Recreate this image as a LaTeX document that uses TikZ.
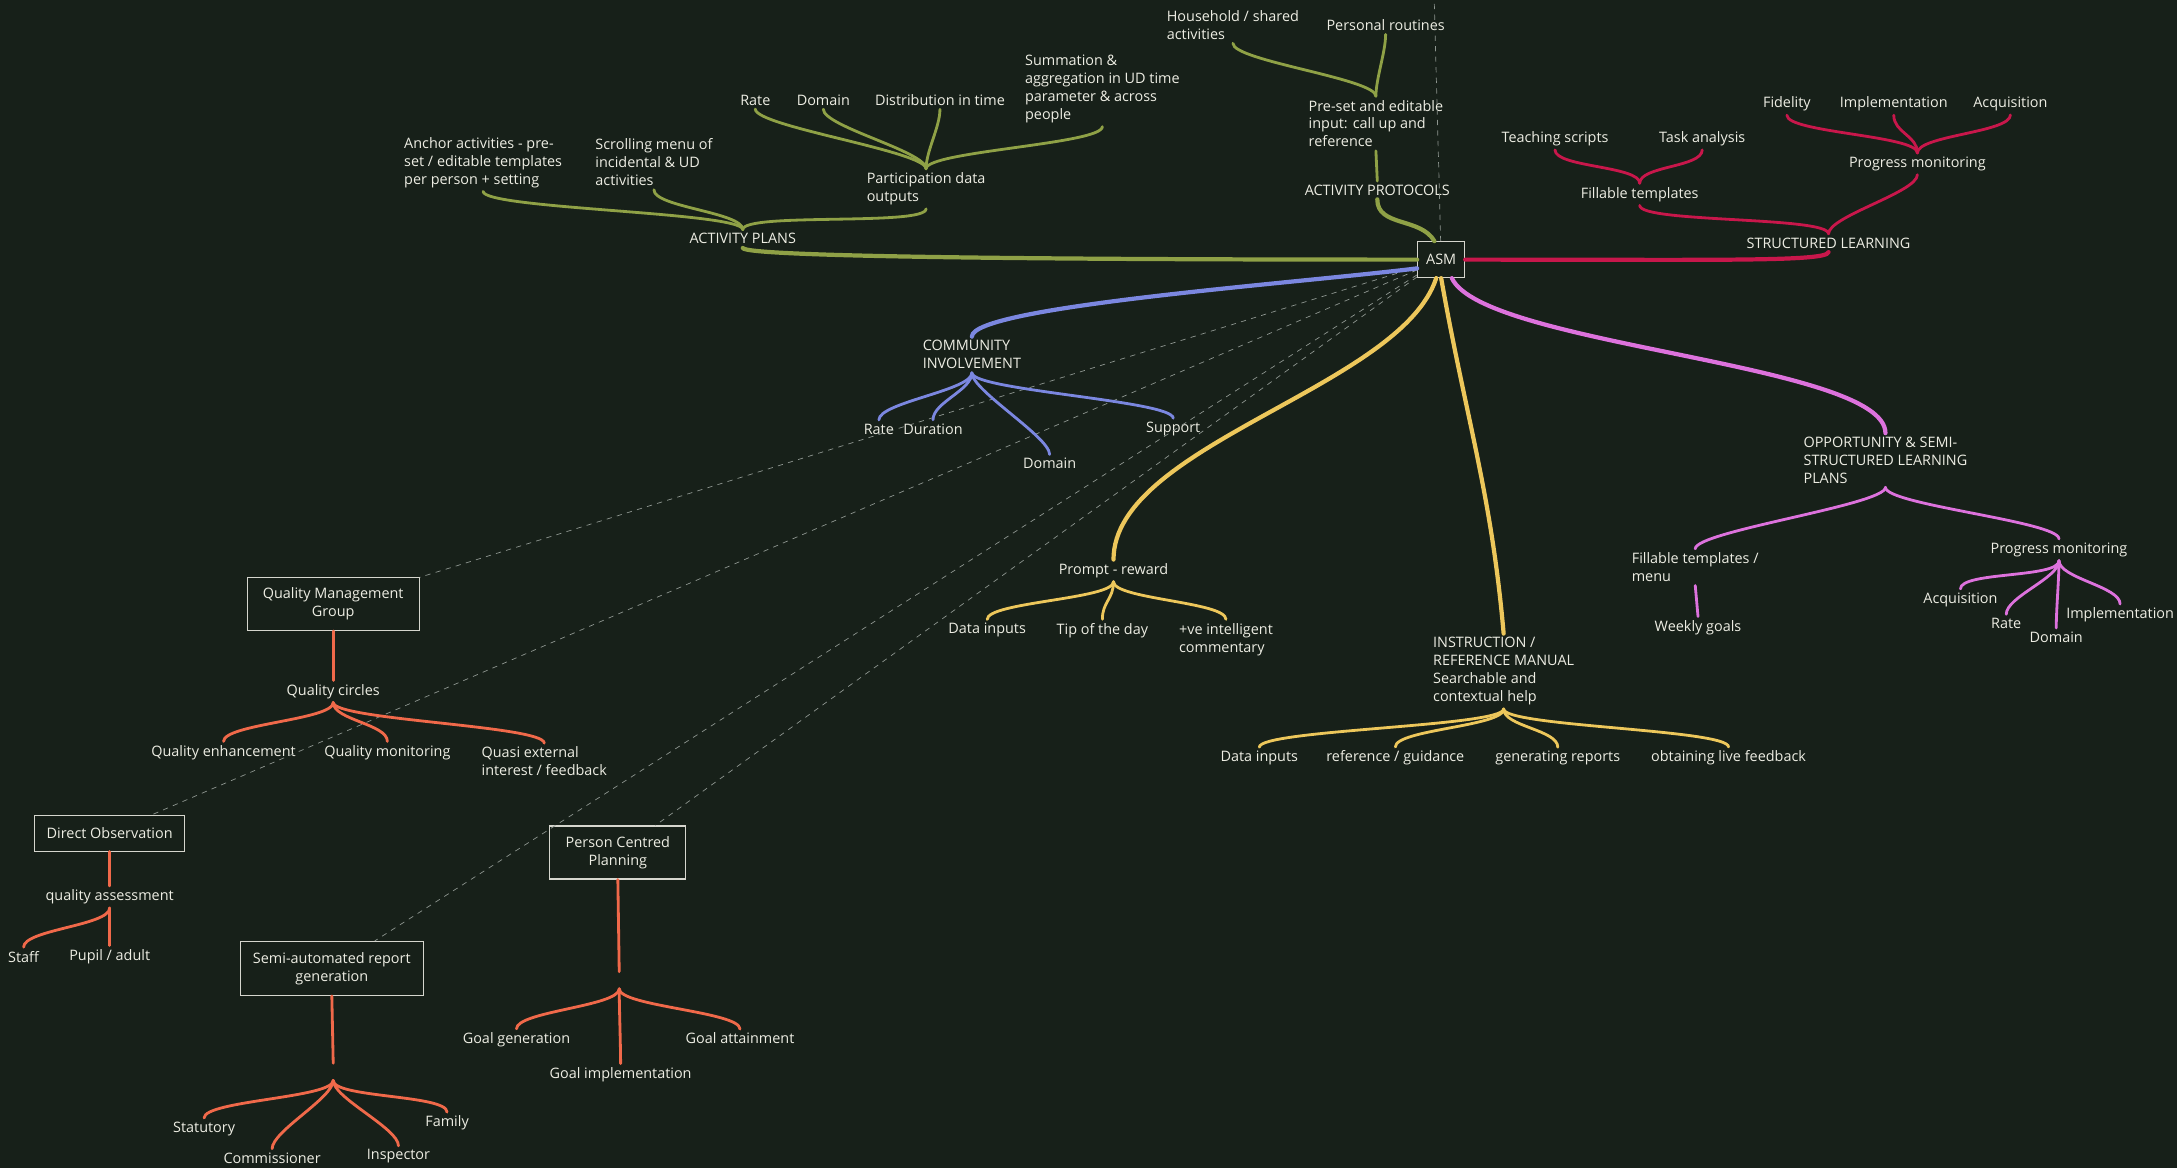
\documentclass[tikz,border=0pt]{standalone}
\usepackage{fontspec}
\setmainfont{Open Sans}
\definecolor{bgc}{HTML}{172019}
\definecolor{txt}{HTML}{EDEDE3}
\definecolor{boxc}{HTML}{D6D6CE}
\definecolor{dsh}{HTML}{8E9690}
\definecolor{grn}{HTML}{8FA146}
\definecolor{crim}{HTML}{C8174B}
\definecolor{blu}{HTML}{7B87E0}
\definecolor{ylw}{HTML}{EDC75B}
\definecolor{pnk}{HTML}{DD72DD}
\definecolor{org}{HTML}{F0694A}
\tikzset{
  lbl/.style={text=txt, inner sep=2pt, align=left, font=\fontsize{8.2}{10.2}\selectfont},
  box/.style={draw=boxc, line width=0.6pt, fill=bgc, text=txt, align=center, inner sep=3pt, font=\fontsize{8.2}{10.2}\selectfont},
  trunk/.style={line width=2.4pt, line cap=round},
  twig/.style={line width=1.6pt, line cap=round},
  guide/.style={draw=dsh, dashed, line width=0.4pt},
  upbr/.style={out=90, in=-90, distance=3.5mm},
  dnbr/.style={out=-90, in=90, distance=3.5mm},
}
\begin{document}
\begin{tikzpicture}[x=0.2777mm, y=0.2777mm]
\fill[bgc] (0,0) rectangle (1568,-841);
\useasboundingbox (0,0) rectangle (1568,-841);

\node[box, minimum width=9.4mm, minimum height=7.2mm] (asm) at (1038,-187) {ASM};

% activity plans
\node[lbl] (ap) at (535,-172) {ACTIVITY PLANS};
\node[lbl] (anchor) at (348,-117) {Anchor activities - pre-\\set / editable templates\\per person + setting};
\node[lbl] (scroll) at (471,-117) {Scrolling menu of\\incidental \& UD\\activities};
\node[lbl] (pdo) at (667,-136) {Participation data\\outputs};
\node[lbl] (rate1) at (544,-72) {Rate};
\node[lbl] (dom1) at (593,-72) {Domain};
\node[lbl] (dist) at (677,-72) {Distribution in time};
\node[lbl] (summ) at (794,-64) {Summation \&\\aggregation in UD time\\parameter \& across\\people};
\node[lbl] (protocols) at (992,-137) {ACTIVITY PROTOCOLS};
\node[lbl] (preset) at (991,-89) {Pre-set and editable\\input: call up and\\reference};
\node[lbl] (hh) at (888,-18) {Household / shared\\activities};
\node[lbl] (routines) at (998,-18) {Personal routines};

% structured learning
\node[lbl] (sl) at (1317,-175) {STRUCTURED LEARNING};
\node[lbl] (ft) at (1181,-140) {Fillable templates};
\node[lbl] (pm) at (1381,-118) {Progress monitoring};
\node[lbl] (ts) at (1120,-100) {Teaching scripts};
\node[lbl] (ta) at (1226,-100) {Task analysis};
\node[lbl] (fid) at (1287,-75) {Fidelity};
\node[lbl] (impl) at (1364,-75) {Implementation};
\node[lbl] (acq) at (1448,-75) {Acquisition};

% community
\node[lbl] (ci) at (700,-255.5) {COMMUNITY\\INVOLVEMENT};
\node[lbl] (rate2) at (633,-309) {Rate};
\node[lbl] (dur) at (672,-309) {Duration};
\node[lbl] (dom2) at (756,-334) {Domain};
\node[lbl] (sup) at (845,-309) {Support};

% prompt and manual
\node[lbl] (prompt) at (802,-411) {Prompt - reward};
\node[lbl] (di1) at (711,-454) {Data inputs};
\node[lbl] (tip) at (794,-454) {Tip of the day};
\node[lbl] (ve) at (883,-460.5) {+ve intelligent\\commentary};
\node[lbl] (ir) at (1083,-483.5) {INSTRUCTION /\\REFERENCE MANUAL\\Searchable and\\contextual help};
\node[lbl] (di2) at (907,-546) {Data inputs};
\node[lbl] (rg) at (1005,-546) {reference / guidance};
\node[lbl] (gr) at (1122,-546) {generating reports};
\node[lbl] (olf) at (1245,-546) {obtaining live feedback};

% opportunity
\node[lbl] (opp) at (1358,-331.5) {OPPORTUNITY \& SEMI-\\STRUCTURED LEARNING\\PLANS};
\node[lbl] (ft2) at (1221,-408.5) {Fillable templates /\\menu};
\node[lbl] (wg) at (1223,-452) {Weekly goals};
\node[lbl] (pm2) at (1483,-396) {Progress monitoring};
\node[lbl] (acq2) at (1412,-432) {Acquisition};
\node[lbl] (rate3) at (1445,-449) {Rate};
\node[lbl] (dom3) at (1481,-459) {Domain};
\node[lbl] (impl2) at (1527,-443) {Implementation};

% quality boxes
\node[box, minimum width=34.4mm, minimum height=10.6mm] (qmg) at (240,-435) {Quality Management\\Group};
\node[lbl] (qc) at (240,-498) {Quality circles};
\node[lbl] (qe) at (161,-542) {Quality enhancement};
\node[lbl] (qm) at (279,-542) {Quality monitoring};
\node[lbl] (qx) at (392,-548.5) {Quasi external\\interest / feedback};
\node[box, minimum width=30mm, minimum height=7.2mm] (dobs) at (79,-600) {Direct Observation};
\node[lbl] (qa) at (79,-646) {quality assessment};
\node[lbl] (staff) at (17,-689) {Staff};
\node[lbl] (pupil) at (79,-689) {Pupil / adult};
\node[box, minimum width=27.2mm, minimum height=10.6mm] (pcp) at (445,-614) {Person Centred\\Planning};
\node[inner sep=0pt, minimum height=3.3mm] (pcpjoin) at (446,-706) {};
\node[lbl] (gg) at (372,-749) {Goal generation};
\node[lbl] (gi) at (447,-774) {Goal implementation};
\node[lbl] (ga) at (533,-748) {Goal attainment};
\node[box, minimum width=36.7mm, minimum height=10.8mm] (sarg) at (239,-697.5) {Semi-automated report\\generation};
\node[inner sep=0pt, minimum height=3.3mm] (sargjoin) at (240,-772) {};
\node[lbl] (stat) at (147,-813) {Statutory};
\node[lbl] (comm) at (196,-834) {Commissioner};
\node[lbl] (insp) at (287,-833) {Inspector};
\node[lbl] (fam) at (322,-809) {Family};

% dashed guides
\coordinate (topend) at (1033,0);
\draw[guide] (asm) -- (topend);
\draw[guide] (asm) -- (qmg);
\draw[guide] (asm) -- (dobs);
\draw[guide] (asm) -- (pcp);
\draw[guide] (asm) -- (sarg);

\draw[trunk,grn] (asm.west) to[out=180, in=-80, out distance=60mm, in distance=2mm] (ap.south);
\draw[twig,grn] (ap.north) to[upbr] (anchor.south);
\draw[twig,grn] (ap.north) to[upbr] (scroll.south);
\draw[twig,grn] (ap.north) to[upbr] (pdo.south);
\draw[twig,grn] (pdo.north) to[upbr] (rate1.south);
\draw[twig,grn] (pdo.north) to[upbr] (dom1.south);
\draw[twig,grn] (pdo.north) to[upbr] (dist.south);
\draw[twig,grn] (pdo.north) to[upbr] (summ.south);
\draw[trunk,grn] (asm.110) to[out=120, in=-90] (protocols.south);
\draw[twig,grn] (protocols.north) -- (preset.south);
\draw[twig,grn] (preset.north) to[upbr] (hh.south);
\draw[twig,grn] (preset.north) to[upbr] (routines.south);

\draw[trunk,crim] (asm.east) to[out=0, in=-100, out distance=50mm, in distance=2mm] (sl.south);
\draw[twig,crim] (sl.north) to[upbr] (ft.south);
\draw[twig,crim] (sl.north) to[upbr] (pm.south);
\draw[twig,crim] (ft.north) to[upbr] (ts.south);
\draw[twig,crim] (ft.north) to[upbr] (ta.south);
\draw[twig,crim] (pm.north) to[upbr] (fid.south);
\draw[twig,crim] (pm.north) to[upbr] (impl.south);
\draw[twig,crim] (pm.north) to[upbr] (acq.south);

\draw[trunk,blu] (asm.200) to[out=187, in=90, out distance=25mm, in distance=6mm] (ci.north);
\draw[twig,blu] (ci.south) to[dnbr] (rate2.north);
\draw[twig,blu] (ci.south) to[dnbr] (dur.north);
\draw[twig,blu] (ci.south) to[dnbr] (dom2.north);
\draw[twig,blu] (ci.south) to[dnbr] (sup.north);

\draw[trunk,ylw] (asm.255) to[out=252, in=90, distance=23mm] (prompt.north);
\draw[twig,ylw] (prompt.south) to[dnbr] (di1.north);
\draw[twig,ylw] (prompt.south) to[dnbr] (tip.north);
\draw[twig,ylw] (prompt.south) to[dnbr] (ve.north);
\draw[trunk,ylw] (asm.south) to[out=-80, in=95] (ir.north);
\draw[twig,ylw] (ir.south) to[dnbr] (di2.north);
\draw[twig,ylw] (ir.south) to[dnbr] (rg.north);
\draw[twig,ylw] (ir.south) to[dnbr] (gr.north);
\draw[twig,ylw] (ir.south) to[dnbr] (olf.north);

\draw[trunk,pnk] (asm.-60) to[out=-65, in=90, out distance=15mm, in distance=14mm] (opp.north);
\draw[twig,pnk] (opp.south) to[dnbr] (ft2.north);
\draw[twig,pnk] (opp.south) to[dnbr] (pm2.north);
\draw[twig,pnk] (ft2.south) -- (wg.north);
\draw[twig,pnk] (pm2.south) to[dnbr] (acq2.north);
\draw[twig,pnk] (pm2.south) to[dnbr] (rate3.north);
\draw[twig,pnk] (pm2.south) to[dnbr] (dom3.north);
\draw[twig,pnk] (pm2.south) to[dnbr] (impl2.north);

\draw[twig,org] (qmg.south) -- (qc.north);
\draw[twig,org] (qc.south) to[dnbr] (qe.north);
\draw[twig,org] (qc.south) to[dnbr] (qm.north);
\draw[twig,org] (qc.south) to[dnbr] (qx.north);
\draw[twig,org] (dobs.south) -- (qa.north);
\draw[twig,org] (qa.south) to[dnbr] (staff.north);
\draw[twig,org] (qa.south) to[dnbr] (pupil.north);
\draw[twig,org] (pcp.south) -- (pcpjoin.north);
\draw[twig,org] (pcpjoin.south) to[dnbr] (gg.north);
\draw[twig,org] (pcpjoin.south) to[dnbr] (gi.north);
\draw[twig,org] (pcpjoin.south) to[dnbr] (ga.north);
\draw[twig,org] (sarg.south) -- (sargjoin.north);
\draw[twig,org] (sargjoin.south) to[dnbr] (stat.north);
\draw[twig,org] (sargjoin.south) to[dnbr] (comm.north);
\draw[twig,org] (sargjoin.south) to[dnbr] (insp.north);
\draw[twig,org] (sargjoin.south) to[dnbr] (fam.north);
\end{tikzpicture}
\end{document}
